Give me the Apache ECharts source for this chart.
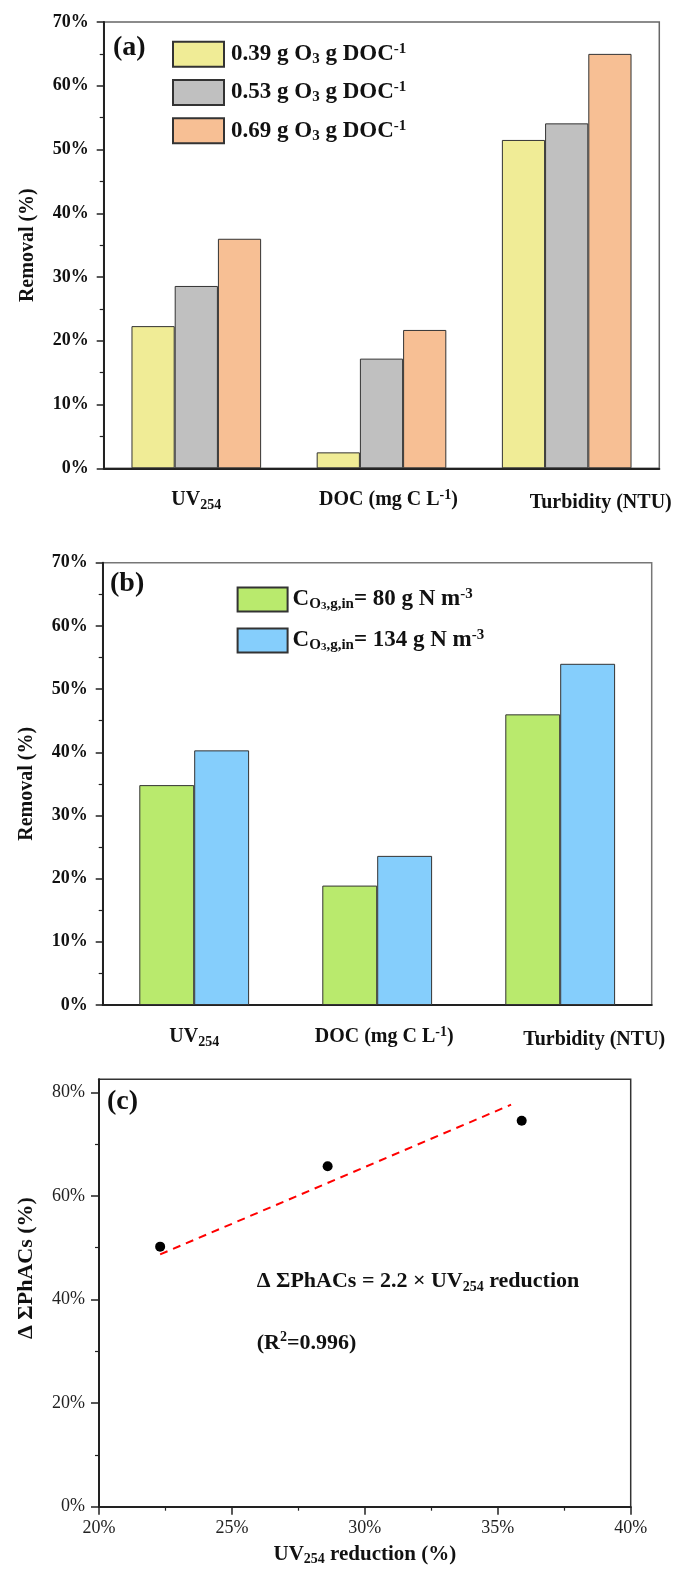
<!DOCTYPE html>
<html><head><meta charset="utf-8">
<script src="https://cdn.jsdelivr.net/npm/echarts@6/dist/echarts.min.js"></script>
<style>html,body{margin:0;padding:0;background:#fff}#c{width:675px;height:1569px}</style>
</head><body><div id="c"></div>
<script>
// ---------- data ----------
const categories = ['UV254', 'DOC (mg C L-1)', 'Turbidity (NTU)'];
const categoryLabels = ['{m|UV}{sub|254}', '{d|DOC (mg C L}{sup|-1}{m|)}', '{t|Turbidity (NTU)}'];

const doseNames = ['0.39 g O3 g DOC-1', '0.53 g O3 g DOC-1', '0.69 g O3 g DOC-1'];
const doseLabels = ['{m|0.39 g O}{sub|3}{m| g DOC}{sup|-1}', '{m|0.53 g O}{sub|3}{m| g DOC}{sup|-1}', '{m|0.69 g O}{sub|3}{m| g DOC}{sup|-1}'];
const dose039 = [22.3, 2.5, 51.5];
const dose053 = [28.6, 17.2, 54.1];
const dose069 = [36.0, 21.7, 65.0];

const concNames = ['C O3,g,in = 80 g N m-3', 'C O3,g,in = 134 g N m-3'];
const concLabels = ['{m|C}{sub|O}{ss|3}{sub|,g,in}{m|= 80 g N m}{sup|-3}', '{m|C}{sub|O}{ss|3}{sub|,g,in}{m|= 134 g N m}{sup|-3}'];
const conc80 = [34.8, 18.9, 46.0];
const conc134 = [40.3, 23.6, 54.0];

const uvReduction = [22.3, 28.6, 35.9];
const phacsRemoval = [50.2, 65.7, 74.5];
const fitX = [22.3, 35.5];
const fitY = [48.7, 77.6];

const yTicksC = [0, 20, 40, 60, 80];
const yMinorC = [10, 30, 50, 70];

// ---------- styles ----------
const FF = '"Liberation Serif","Times New Roman",serif';
const AX = {color: '#222', width: 2};
const xRich = {
  m: {fontFamily: FF, fontWeight: 'bold', fontSize: 20, lineHeight: 24, color: '#111', verticalAlign: 'middle'},
  d: {fontFamily: FF, fontWeight: 'bold', fontSize: 20, lineHeight: 24, color: '#111', verticalAlign: 'middle', padding: [0, 0, 0, 14]},
  sub: {fontFamily: FF, fontWeight: 'bold', fontSize: 14, lineHeight: 10, color: '#111', verticalAlign: 'bottom'},
  sup: {fontFamily: FF, fontWeight: 'bold', fontSize: 14, lineHeight: 10, color: '#111', verticalAlign: 'top'},
  t: {fontFamily: FF, fontWeight: 'bold', fontSize: 20, lineHeight: 24, color: '#111', verticalAlign: 'middle', padding: [6, 0, 0, 68]}
};
const legRich = {
  m: {fontFamily: FF, fontWeight: 'bold', fontSize: 23, lineHeight: 25, color: '#111', verticalAlign: 'middle'},
  sub: {fontFamily: FF, fontWeight: 'bold', fontSize: 15, lineHeight: 10, color: '#111', verticalAlign: 'bottom'},
  ss: {fontFamily: FF, fontWeight: 'bold', fontSize: 11, lineHeight: 4, color: '#111', verticalAlign: 'bottom'},
  sup: {fontFamily: FF, fontWeight: 'bold', fontSize: 15, lineHeight: 12, color: '#111', verticalAlign: 'top'}
};

function catX(gi) {
  return {
    type: 'category', gridIndex: gi, data: categories,
    axisLine: {lineStyle: AX},
    axisTick: {alignWithLabel: true, length: 7, lineStyle: {color: '#222', width: 1.5}},
    axisLabel: {interval: 0, hideOverlap: false, margin: 20, formatter: (v, i) => categoryLabels[i], rich: xRich}
  };
}
function valY(gi) {
  return {
    type: 'value', gridIndex: gi, min: 0, max: 70, interval: 10,
    axisLine: {show: true, lineStyle: AX},
    axisTick: {show: true, length: 7, lineStyle: {color: '#222', width: 1.5}},
    minorTick: {show: true, splitNumber: 2, length: 4, lineStyle: {color: '#222', width: 1.2}},
    splitLine: {show: false},
    axisLabel: {formatter: '{value}%', fontFamily: FF, fontWeight: 'bold', fontSize: 18, color: '#111', margin: 15},
    name: 'Removal (%)', nameLocation: 'middle', nameGap: 66,
    nameTextStyle: {fontFamily: FF, fontWeight: 'bold', fontSize: 20, color: '#111'}
  };
}
function bar(name, data, color, xi, yi, gap) {
  return {
    name, type: 'bar', xAxisIndex: xi, yAxisIndex: yi, data,
    barGap: '0%', barCategoryGap: gap,
    itemStyle: {color, borderColor: '#333', borderWidth: 1}
  };
}

const chart = echarts.init(document.getElementById('c'), null, {renderer: 'canvas'});
chart.setOption({
  animation: false,
  backgroundColor: '#fff',
  grid: [
    {left: 103.7, top: 22, width: 555.6, height: 446.3, show: true, borderColor: '#666', borderWidth: 1.5},
    {left: 102.7, top: 562.7, width: 549, height: 442.3, show: true, borderColor: '#777', borderWidth: 1.5},
    {left: 99, top: 1079.3, width: 531.7, height: 427.4, show: true, borderColor: '#333', borderWidth: 1.5}
  ],
  legend: [
    {data: doseNames, orient: 'vertical', left: 167, top: 35.7, itemWidth: 51, itemHeight: 25, itemGap: 11.3,
     icon: 'rect', formatter: n => doseLabels[doseNames.indexOf(n)], textStyle: {rich: legRich, padding: [0, 0, 0, 2]}, selectedMode: false},
    {data: concNames, orient: 'vertical', left: 231.6, top: 581.5, itemWidth: 50, itemHeight: 24, itemGap: 15,
     icon: 'rect', formatter: n => concLabels[concNames.indexOf(n)], textStyle: {rich: legRich, padding: [0, 0, 0, 0]}, selectedMode: false}
  ],
  xAxis: [
    catX(0), catX(1),
    {type: 'value', gridIndex: 2, min: 20, max: 40, interval: 5,
     axisLine: {lineStyle: AX},
     axisTick: {length: 8, lineStyle: {color: '#222', width: 1.5}},
     minorTick: {show: true, splitNumber: 2, length: 4, lineStyle: {color: '#222', width: 1.2}},
     splitLine: {show: false},
     axisLabel: {formatter: '{value}%', fontFamily: FF, fontSize: 18, color: '#222', margin: 13},
     name: '{m|UV}{sub|254}{m| reduction (%)}', nameLocation: 'middle', nameGap: 36,
     nameTextStyle: {rich: {
       m: {fontFamily: FF, fontWeight: 'bold', fontSize: 21, lineHeight: 24, color: '#111', verticalAlign: 'middle'},
       sub: {fontFamily: FF, fontWeight: 'bold', fontSize: 14, lineHeight: 10, color: '#111', verticalAlign: 'bottom'}
     }}}
  ],
  yAxis: [
    valY(0), valY(1),
    {type: 'value', gridIndex: 2, min: 0, max: 82.5, interval: 20,
     axisLine: {show: true, lineStyle: AX},
     axisTick: {show: true, length: 8, customValues: yTicksC, lineStyle: {color: '#222', width: 1.5}},
     splitLine: {show: false},
     axisLabel: {customValues: yTicksC, formatter: '{value}%', fontFamily: FF, fontSize: 18, color: '#222', margin: 14},
     name: 'Δ ΣPhACs (%)', nameLocation: 'middle', nameGap: 62,
     nameTextStyle: {fontFamily: FF, fontWeight: 'bold', fontSize: 22, color: '#111', padding: [0, 0, 0, 50]}},
    {type: 'value', gridIndex: 2, min: 0, max: 82.5, position: 'left', offset: 0,
     axisLine: {show: false}, splitLine: {show: false}, axisLabel: {show: false},
     axisTick: {show: true, length: 4, customValues: yMinorC, lineStyle: {color: '#222', width: 1.2}}}
  ],
  series: [
    bar(doseNames[0], dose039, '#F0EC96', 0, 0, '30%'),
    bar(doseNames[1], dose053, '#C0C0C0', 0, 0, '30%'),
    bar(doseNames[2], dose069, '#F7BF94', 0, 0, '30%'),
    bar(concNames[0], conc80, '#B9EA6D', 1, 1, '40%'),
    bar(concNames[1], conc134, '#85CEFC', 1, 1, '40%'),
    {type: 'line', xAxisIndex: 2, yAxisIndex: 2, data: fitX.map((x, i) => [x, fitY[i]]),
     symbol: 'none', lineStyle: {color: '#FF0000', width: 2, type: [8, 6]}, z: 2},
    {type: 'scatter', xAxisIndex: 2, yAxisIndex: 2, data: uvReduction.map((x, i) => [x, phacsRemoval[i]]),
     symbolSize: 10, itemStyle: {color: '#000', opacity: 1}, z: 3}
  ],
  graphic: [
    {type: 'text', x: 113, y: 48, style: {text: '(a)', font: 'bold 28px ' + FF, fill: '#111', verticalAlign: 'middle'}},
    {type: 'text', x: 110, y: 584, style: {text: '(b)', font: 'bold 28px ' + FF, fill: '#111', verticalAlign: 'middle'}},
    {type: 'text', x: 107, y: 1102, style: {text: '(c)', font: 'bold 28px ' + FF, fill: '#111', verticalAlign: 'middle'}},
    {type: 'text', x: 256.7, y: 1281, style: {
      text: '{m|Δ ΣPhACs = 2.2 × UV}{sub|254}{m| reduction}', verticalAlign: 'middle',
      rich: {
        m: {fontFamily: FF, fontWeight: 'bold', fontSize: 22, lineHeight: 26, fill: '#111', verticalAlign: 'middle'},
        sub: {fontFamily: FF, fontWeight: 'bold', fontSize: 14, lineHeight: 10, fill: '#111', verticalAlign: 'bottom'}
      }}},
    {type: 'text', x: 256.7, y: 1343, style: {
      text: '{m|(R}{sup|2}{m|=0.996)}', verticalAlign: 'middle',
      rich: {
        m: {fontFamily: FF, fontWeight: 'bold', fontSize: 22, lineHeight: 26, fill: '#111', verticalAlign: 'middle'},
        sup: {fontFamily: FF, fontWeight: 'bold', fontSize: 14, lineHeight: 12, fill: '#111', verticalAlign: 'top'}
      }}}
  ]
});
</script></body></html>
